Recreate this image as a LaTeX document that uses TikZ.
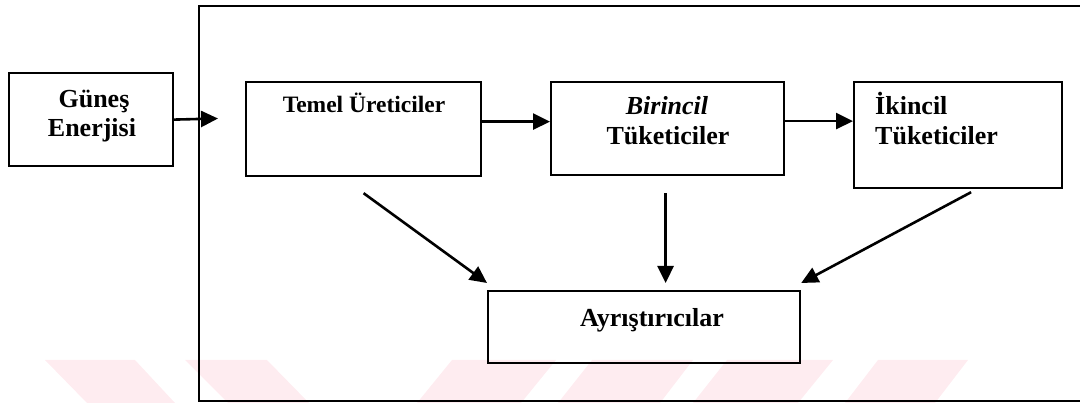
\documentclass[tikz,border=0pt]{standalone}
\usepackage{fontspec}
\setmainfont{Liberation Serif}
\usetikzlibrary{arrows.meta}
\definecolor{wmpink}{RGB}{254,236,240}
\begin{document}
\begin{tikzpicture}[x=1pt,y=-1pt,
  box/.style={draw, line width=2.2pt, inner sep=0pt, anchor=north west},
  lbl/.style={inner sep=0pt, anchor=base, font=\bfseries\fontsize{26}{30}\selectfont},
  arr/.style={line width=2.6pt, -{Triangle[length=17pt,width=16pt]}},
  ]
\useasboundingbox (0,0) rectangle (1080,403);

% faint stripes along the bottom edge
\fill[wmpink] (45,360) -- (135,360) -- (175,403) -- (87,403) -- cycle;
\fill[wmpink] (185,360) -- (267,360) -- (309,403) -- (228,403) -- cycle;
\fill[wmpink] (452,360) -- (556,360) -- (521,403) -- (417,403) -- cycle;
\fill[wmpink] (592,360) -- (693,360) -- (660,403) -- (558,403) -- cycle;
\fill[wmpink] (727,360) -- (833,360) -- (798,403) -- (693,403) -- cycle;
\fill[wmpink] (878,360) -- (968,360) -- (935,403) -- (845,403) -- cycle;

% ecosystem frame (open on the right)
\draw[line width=1.7pt] (1080,6) -- (199,6) -- (199,401) -- (1080,401);

% boxes
\node[box, minimum width=164pt, minimum height=93pt]  (gunes)    at (8,72)   {};
\node[box, minimum width=235pt, minimum height=94pt]  (temel)    at (245,81) {};
\node[box, minimum width=233pt, minimum height=93pt]  (birincil) at (550,81) {};
\node[box, minimum width=208pt, minimum height=106pt] (ikincil)  at (853,81) {};
\node[box, minimum width=312pt, minimum height=72pt]  (ayr)      at (487,290) {};

% labels
\node[lbl] (tgunes1) at (94,108) {Güneş};
\node[lbl] (tgunes2) at (92,137) {Enerjisi};
\node[lbl, font=\bfseries\fontsize{23.5}{28}\selectfont] (ttemel) at (364,113) {Temel Üreticiler};
\node[lbl] (tbir1) at (667,115) {\itshape Birincil};
\node[lbl] (tbir2) at (668,145) {Tüketiciler};
\node[lbl, anchor=base west] (tiki1) at (875,115) {İkincil};
\node[lbl, anchor=base west] (tiki2) at (875,145) {Tüketiciler};
\node[lbl] (tayr) at (652,327) {Ayrıştırıcılar};

% energy flow
\coordinate (inlet) at (218,118.5);
\draw[arr] (gunes.east) -- (inlet);
\draw[arr] ([yshift=7.5pt]temel.east) -- ([yshift=7.5pt]temel.east -| birincil.west);
\draw[arr] ([yshift=7.5pt]birincil.east) -- ([yshift=7.5pt]birincil.east -| ikincil.west);

% decomposition
\draw[arr] ([yshift=-16pt]temel.south) -- ([yshift=7pt]ayr.north west);
\draw[arr] ([shift={(-2pt,-17pt)}]birincil.south) -- ([shift={(-2pt,7pt)}]birincil.south |- ayr.north);
\draw[arr] ([shift={(13pt,-3pt)}]ikincil.south) -- ([yshift=7pt]ayr.north east);
\end{tikzpicture}
\end{document}
